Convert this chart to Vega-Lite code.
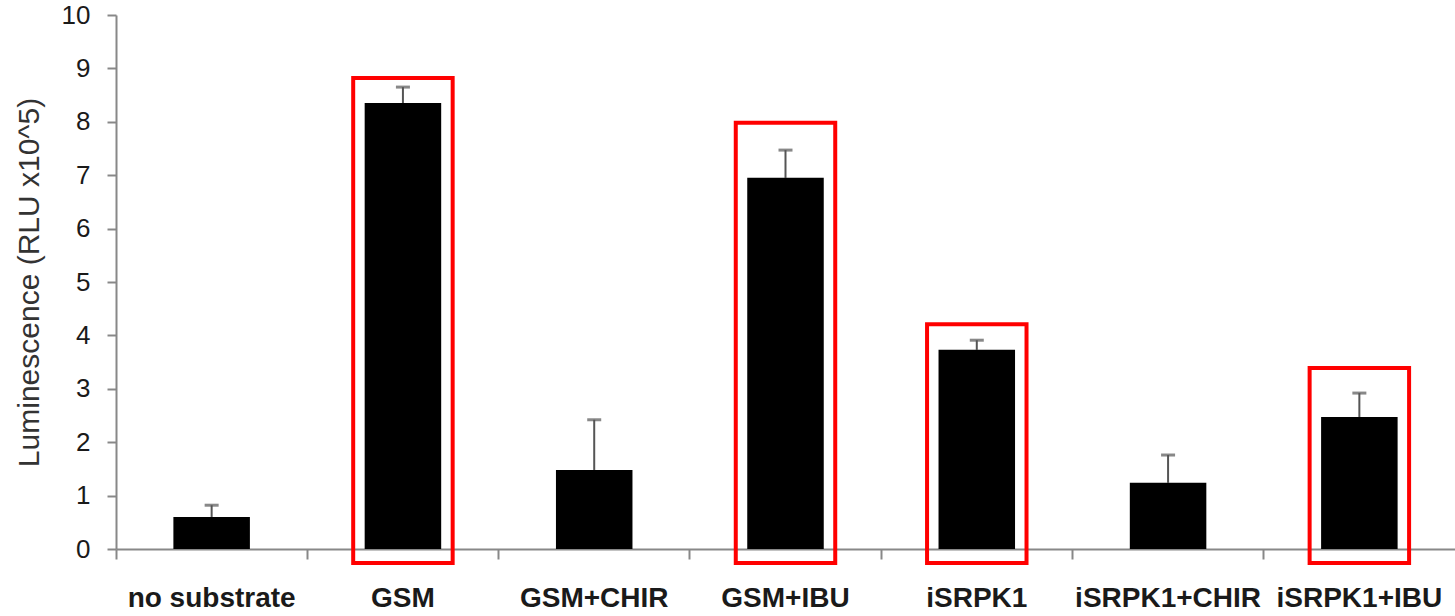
{
  "$schema": "https://vega.github.io/schema/vega-lite/v6.json",
  "width": 1339,
  "height": 534,
  "autosize": {"type": "none"},
  "padding": {"left": 116, "top": 15, "right": 0, "bottom": 67},
  "background": "white",
  "config": {
    "view": {"stroke": null},
    "font": "Liberation Sans",
    "axis": {"domainColor": "#888888", "tickColor": "#888888", "domainWidth": 2, "tickWidth": 2, "labelColor": "#1a1a1a", "titleColor": "#333333", "grid": false}
  },
  "data": {
    "values": [
      {"cond": "no substrate", "lum": 0.6, "err": 0.82},
      {"cond": "GSM", "lum": 8.35, "err": 8.65, "boxTop": 8.82},
      {"cond": "GSM+CHIR", "lum": 1.48, "err": 2.42},
      {"cond": "GSM+IBU", "lum": 6.95, "err": 7.47, "boxTop": 7.98},
      {"cond": "iSRPK1", "lum": 3.73, "err": 3.91, "boxTop": 4.21},
      {"cond": "iSRPK1+CHIR", "lum": 1.24, "err": 1.76},
      {"cond": "iSRPK1+IBU", "lum": 2.47, "err": 2.92, "boxTop": 3.39}
    ]
  },
  "encoding": {
    "x": {
      "field": "cond",
      "type": "nominal",
      "sort": null,
      "scale": {"paddingInner": 0, "paddingOuter": 0},
      "axis": {"title": null, "labelAngle": 0, "labelFontSize": 28, "labelFontWeight": "bold", "bandPosition": 0, "tickSize": 10, "labelPadding": 25, "labelOverlap": false, "labelLimit": 400}
    }
  },
  "layer": [
    {
      "mark": {"type": "rule", "color": "#555555", "strokeWidth": 2},
      "encoding": {
        "y": {
          "field": "lum",
          "type": "quantitative",
          "scale": {"domain": [0, 10], "nice": false},
          "axis": {"title": "Luminescence (RLU x10^5)", "titleFontSize": 30, "titleFontWeight": "normal", "labelFontSize": 26, "values": [0,1,2,3,4,5,6,7,8,9,10], "labelOverlap": false, "tickSize": 9, "labelPadding": 17, "titlePadding": 17}
        },
        "y2": {"field": "err"}
      }
    },
    {
      "mark": {"type": "tick", "color": "#555555", "size": 14, "thickness": 3},
      "encoding": {
        "y": {"field": "err", "type": "quantitative"}
      }
    },
    {
      "mark": {"type": "bar", "color": "black", "width": {"band": 0.4}},
      "encoding": {
        "y": {"field": "lum", "type": "quantitative"}
      }
    },
    {
      "transform": [{"filter": "isValid(datum.boxTop)"}],
      "mark": {"type": "bar", "filled": false, "stroke": "#ff0000", "strokeWidth": 4, "width": {"band": 0.52}, "clip": false},
      "encoding": {
        "y": {"field": "boxTop", "type": "quantitative"},
        "y2": {"datum": -0.26}
      }
    }
  ]
}
